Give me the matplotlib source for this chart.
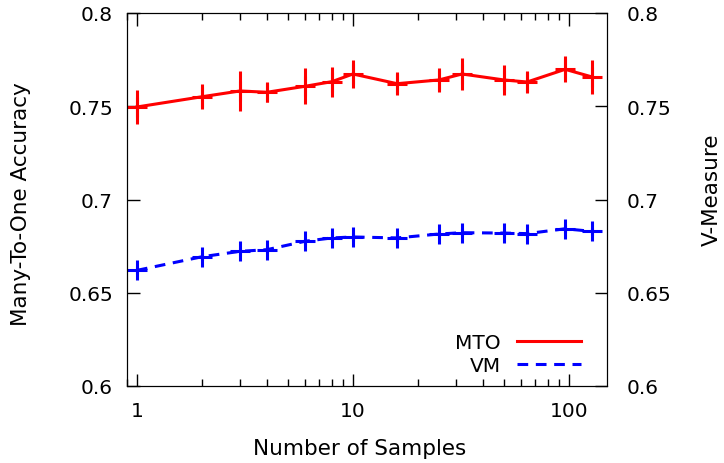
import numpy as np
import matplotlib
matplotlib.use('Agg')
import matplotlib.pyplot as plt
from matplotlib.lines import Line2D
from matplotlib.ticker import FuncFormatter, FixedLocator, LogLocator, NullFormatter

# number of samples and the two scores
samples = [1, 2, 3, 4, 6, 8, 10, 16, 25, 32, 50, 64, 96, 128]
mto = [0.7496, 0.7551, 0.7582, 0.7575, 0.7607, 0.7632, 0.7673,
       0.7621, 0.7641, 0.7673, 0.7641, 0.7630, 0.7698, 0.7657]
mto_err = [0.0090, 0.0067, 0.0107, 0.0050, 0.0097, 0.0080, 0.0076,
           0.0060, 0.0065, 0.0085, 0.0079, 0.0060, 0.0070, 0.0090]
vm = [0.6620, 0.6693, 0.6722, 0.6731, 0.6776, 0.6794, 0.6799,
      0.6794, 0.6815, 0.6822, 0.6820, 0.6817, 0.6843, 0.6829]
vm_err = [0.002] * len(vm)

plt.rcParams['font.family'] = 'DejaVu Sans'
plt.rcParams['font.size'] = 14.5

fig = plt.figure(figsize=(7.24, 4.64), dpi=100)
ax = fig.add_axes([127/724, 1-387/464, 480/724, 373/464])

ax.errorbar(samples, mto, yerr=mto_err, color='red', lw=2.2, elinewidth=2.2,
            marker='+', markersize=14, mew=2.2, capsize=0)
ax.errorbar(samples, vm, yerr=vm_err, color='blue', lw=2.2, elinewidth=2.2,
            ls=(0, (3.5, 2.5)), marker='+', markersize=14, mew=2.2, capsize=0)

ax.set_xscale('log')
ax.set_xlim(0.9, 150)
ax.set_ylim(0.6, 0.8)
ax.xaxis.set_major_locator(FixedLocator([1, 10, 100]))
ax.xaxis.set_major_formatter(FuncFormatter(lambda v, p: '%g' % v))
ax.xaxis.set_minor_locator(LogLocator(base=10, subs=np.arange(2, 10)))
ax.xaxis.set_minor_formatter(NullFormatter())
ax.set_yticks([0.6, 0.65, 0.7, 0.75, 0.8])
ax.yaxis.set_major_formatter(FuncFormatter(lambda v, p: '%g' % v))

ax.tick_params(which='both', direction='in', top=True, right=False, width=1)
ax.tick_params(which='major', length=9)
ax.tick_params(which='minor', length=5)
ax.tick_params(axis='y', pad=10)
ax.tick_params(axis='x', pad=11)

ax2 = ax.twinx()
ax2.set_ylim(0.6, 0.8)
ax2.set_yticks([0.6, 0.65, 0.7, 0.75, 0.8])
ax2.yaxis.set_major_formatter(FuncFormatter(lambda v, p: '%g' % v))
ax2.tick_params(direction='in', length=9, width=1, pad=14)

ax.set_xlabel('Number of Samples', fontsize=15.5)
ax.set_ylabel('Many-To-One Accuracy', fontsize=15.5)
ax2.set_ylabel('V-Measure', fontsize=15.5)
ax.xaxis.set_label_coords(0.485, -0.14)
ax.yaxis.set_label_coords(-0.2, 0.49)
ax2.yaxis.set_label_coords(1.198, 0.53)

handles = [Line2D([], [], color='red', lw=2.2),
           Line2D([], [], color='blue', lw=2.2, ls=(0, (3.5, 2.5)))]
ax.legend(handles, ['MTO', 'VM'], loc='lower right', bbox_to_anchor=(0.946, 0.03),
          frameon=False, markerfirst=False, handlelength=3.2, borderpad=0,
          borderaxespad=0, labelspacing=0.2, handletextpad=0.8)

plt.savefig('out.png', dpi=100)
